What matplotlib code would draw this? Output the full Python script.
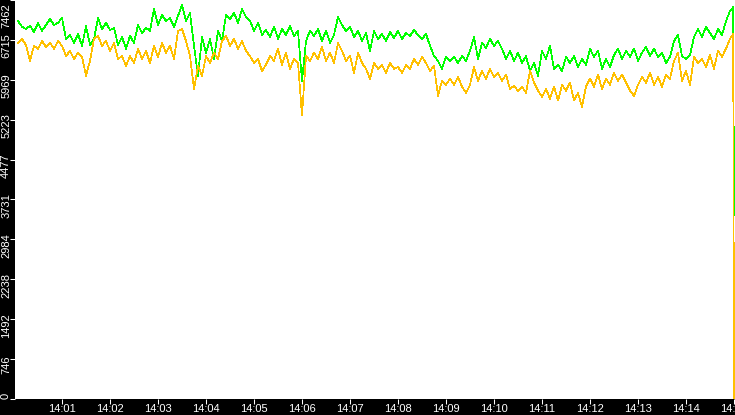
import datetime as dt
import matplotlib
matplotlib.use("Agg")
import matplotlib.pyplot as plt
import matplotlib.dates as mdates
from matplotlib.transforms import ScaledTranslation

# ---- data ----
base = dt.datetime(2000, 1, 1, 14, 0, 0)
seconds = list(range(5, 900, 5)) + [899, 900]

green = [7070, 6960, 6920, 6980, 6865, 7030, 6885, 6995, 7105, 6995,
         7035, 7125, 6735, 6810, 6660, 6825, 6605, 6975, 6620, 6735,
         7125, 6920, 7035, 6900, 6940, 6620, 6770, 6550, 6790, 6660,
         6995, 6845, 6940, 6885, 7295, 6995, 7180, 7070, 7125, 6960,
         7165, 7370, 7070, 7220, 6605, 6045, 6770, 6475, 6735, 6360,
         6885, 6695, 7180, 7105, 7220, 7035, 7295, 7145, 7070, 6885,
         7035, 6810, 6900, 6770, 6960, 6735, 6920, 6810, 6975, 6790,
         6885, 5950, 6695, 6885, 6790, 6920, 6695, 6885, 6660, 6810,
         7145, 6995, 6885, 6960, 6770, 6885, 6695, 6845, 6510, 6885,
         6735, 6825, 6695, 6865, 6750, 6885, 6735, 6845, 6790, 6900,
         6810, 6735, 6825, 6605, 6415, 6325, 6175, 6400, 6325, 6400,
         6285, 6415, 6325, 6510, 6770, 6360, 6660, 6565, 6735, 6605,
         6695, 6550, 6360, 6510, 6325, 6475, 6285, 6415, 6135, 6285,
         6045, 6510, 6360, 6605, 6175, 6250, 6135, 6400, 6285, 6415,
         6210, 6360, 6250, 6550, 6400, 6510, 6175, 6360, 6210, 6435,
         6550, 6360, 6510, 6400, 6550, 6325, 6475, 6585, 6415, 6550,
         6400, 6475, 6285, 6400, 6695, 6810, 6415, 6360, 6435, 6770,
         6920, 6770, 6960, 6845, 6735, 6920, 6810, 7070, 7255, 7330,
         3430]

yellow = [6660, 6735, 6620, 6325, 6605, 6550, 6695, 6585, 6660, 6550,
          6695, 6605, 6415, 6510, 6360, 6475, 6400, 6045, 6325, 6735,
          6790, 6605, 6695, 6510, 6660, 6360, 6415, 6230, 6415, 6285,
          6550, 6360, 6510, 6285, 6605, 6400, 6660, 6475, 6605, 6360,
          6885, 6920, 6695, 6415, 5800, 6230, 6045, 6415, 6285, 6475,
          6360, 6695, 6790, 6605, 6735, 6550, 6695, 6510, 6415, 6285,
          6360, 6135, 6250, 6415, 6325, 6550, 6250, 6475, 6175, 6360,
          6285, 5300, 6415, 6325, 6475, 6360, 6585, 6325, 6475, 6285,
          6660, 6510, 6325, 6415, 6100, 6475, 6285, 6175, 5990, 6285,
          6175, 6250, 6100, 6285, 6175, 6210, 6100, 6250, 6175, 6360,
          6250, 6400, 6285, 6135, 6230, 5670, 5950, 5875, 5990, 5875,
          6025, 5840, 5725, 5875, 6210, 5950, 6135, 5990, 6175, 6025,
          6100, 5950, 6065, 5800, 5855, 5765, 5840, 5725, 6135, 5915,
          5765, 5650, 5800, 5615, 5840, 5580, 5875, 5765, 5915, 5580,
          5725, 5465, 5840, 5990, 5840, 6065, 5800, 5990, 5875, 6100,
          5950, 6065, 5915, 5765, 5670, 5875, 6025, 5915, 6100, 5875,
          6025, 5840, 6065, 5990, 6325, 6475, 5950, 6135, 5875, 6400,
          6285, 6360, 6210, 6435, 6175, 6510, 6400, 6550, 6735, 6830,
          0]

y_ticks = [0, 746, 1492, 2238, 2984, 3731, 4477, 5223, 5969, 6715, 7462]
x_tick_minutes = list(range(1, 16))

# ---- figure ----
W, H, DPI = 735, 415, 100
fig = plt.figure(figsize=(W / DPI, H / DPI), dpi=DPI, facecolor="black")
ax = fig.add_axes([15 / W, 16 / H, 720 / W, 399 / H])
ax.set_facecolor("white")
for s in ax.spines.values():
    s.set_visible(False)

times = [base + dt.timedelta(seconds=s) for s in seconds]
ax.plot(times, green, color="#00ff00", lw=0.5, antialiased=False, zorder=2)
ax.plot(times, yellow, color="#ffc000", lw=0.5, antialiased=False, zorder=3)

ax.set_ylim(0, 7462)
ax.set_xlim(base + dt.timedelta(seconds=1.25), base + dt.timedelta(seconds=901.25))

ax.set_yticks(y_ticks)
ax.set_yticklabels([str(v) for v in y_ticks])
xt = [base + dt.timedelta(minutes=m) for m in x_tick_minutes]
ax.set_xticks(xt)
ax.xaxis.set_major_formatter(mdates.DateFormatter("%H:%M"))

font = dict(family=["Liberation Sans", "DejaVu Sans"], size=8)
ax.tick_params(axis="x", colors="white", direction="out", length=3.6, width=0.75, pad=0.3)
ax.tick_params(axis="y", colors="white", direction="out", length=3.6, width=0.75, pad=-0.8)
for lab in ax.get_xticklabels():
    lab.set_fontproperties(font)
    lab.set_color("white")

ylabels = ax.get_yticklabels()
for i, lab in enumerate(ylabels):
    lab.set_fontproperties(font)
    lab.set_color("white")
    lab.set_rotation(90)
    lab.set_ha("right")
    if i == 0:
        lab.set_va("bottom")
        off = 0
    elif i == len(ylabels) - 1:
        lab.set_va("top")
        off = -3
    else:
        lab.set_va("center")
        off = -6
    lab.set_transform(lab.get_transform() + ScaledTranslation(0, off / DPI, fig.dpi_scale_trans))

fig.savefig("out.png", dpi=DPI, facecolor="black")
